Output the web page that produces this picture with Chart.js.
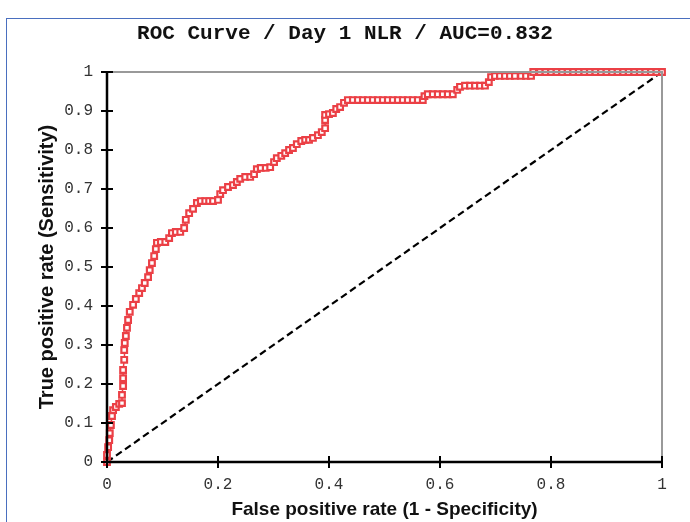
<!DOCTYPE html>
<html>
<head>
<meta charset="utf-8">
<script src="https://cdn.jsdelivr.net/npm/chart.js@4.4.0/dist/chart.umd.min.js"></script>
<style>
  html, body { margin: 0; padding: 0; background: #fff; }
  #wrap { position: relative; width: 690px; height: 522px; }
  #frame { position: absolute; left: 6px; top: 18px; right: -5px; bottom: -5px;
           border-left: 1px solid #4a6fbf; border-top: 1px solid #4a6fbf; }
  canvas { position: absolute; left: 0; top: 0; }
</style>
</head>
<body>
<div id="wrap">
  <div id="frame"></div>
  <canvas id="myChart" width="690" height="522"></canvas>
</div>
<script>
// ROC points
let fpr = [0, 0, 0.002, 0.004, 0.005, 0.007, 0.009, 0.011, 0.016, 0.022, 0.027, 0.027, 0.029, 0.029, 0.029,
  0.031, 0.031, 0.032, 0.034, 0.036, 0.038, 0.041, 0.047, 0.052, 0.058, 0.063, 0.068, 0.074, 0.077, 0.081,
  0.085, 0.088, 0.090, 0.097, 0.105, 0.112, 0.117, 0.124, 0.132, 0.139, 0.142, 0.148, 0.155, 0.162, 0.169,
  0.177, 0.184, 0.191, 0.200, 0.204, 0.209, 0.218, 0.227, 0.234, 0.240, 0.249, 0.258, 0.265, 0.270, 0.277,
  0.286, 0.294, 0.301, 0.306, 0.314, 0.321, 0.328, 0.335, 0.342, 0.350, 0.357, 0.364, 0.371, 0.380, 0.387,
  0.393, 0.393, 0.393, 0.400, 0.407, 0.413, 0.420, 0.427, 0.434, 0.443, 0.452, 0.461, 0.470, 0.479, 0.488,
  0.497, 0.506, 0.515, 0.524, 0.533, 0.542, 0.551, 0.560, 0.569, 0.572, 0.578, 0.587, 0.596, 0.605, 0.614,
  0.623, 0.631, 0.636, 0.645, 0.654, 0.663, 0.672, 0.681, 0.688, 0.692, 0.699, 0.708, 0.717, 0.726, 0.735,
  0.746, 0.755, 0.764, 0.768, 0.78, 0.79, 0.80, 0.81, 0.82, 0.83, 0.84, 0.85, 0.86, 0.87, 0.88, 0.89,
  0.90, 0.91, 0.92, 0.93, 0.94, 0.95, 0.96, 0.97, 0.98, 0.99, 1.0]
let tpr = [0, 0.018, 0.038, 0.056, 0.074, 0.095, 0.118, 0.133, 0.141, 0.149, 0.151, 0.172, 0.195, 0.215, 0.236,
  0.262, 0.287, 0.305, 0.323, 0.344, 0.364, 0.385, 0.403, 0.418, 0.433, 0.446, 0.459, 0.474, 0.492, 0.510,
  0.528, 0.546, 0.562, 0.564, 0.564, 0.574, 0.587, 0.590, 0.590, 0.600, 0.621, 0.638, 0.649, 0.664, 0.669,
  0.669, 0.669, 0.669, 0.672, 0.687, 0.697, 0.705, 0.710, 0.718, 0.726, 0.731, 0.731, 0.738, 0.751, 0.754,
  0.754, 0.756, 0.769, 0.779, 0.785, 0.792, 0.800, 0.805, 0.815, 0.823, 0.826, 0.826, 0.831, 0.838, 0.846,
  0.856, 0.877, 0.890, 0.892, 0.895, 0.905, 0.910, 0.921, 0.928, 0.928, 0.928, 0.928, 0.928, 0.928, 0.928,
  0.928, 0.928, 0.928, 0.928, 0.928, 0.928, 0.928, 0.928, 0.928, 0.938, 0.943, 0.943, 0.943, 0.943, 0.943,
  0.943, 0.954, 0.962, 0.965, 0.965, 0.965, 0.965, 0.965, 0.974, 0.987, 0.990, 0.990, 0.990, 0.990, 0.990,
  0.990, 0.990, 0.990, 1.0, 1.0, 1.0, 1.0, 1.0, 1.0, 1.0, 1.0, 1.0, 1.0, 1.0, 1.0, 1.0,
  1.0, 1.0, 1.0, 1.0, 1.0, 1.0, 1.0, 1.0, 1.0, 1.0, 1.0]
let refLine = [0, 1]

let xTicks = [0, 0.2, 0.4, 0.6, 0.8, 1]
let yTicks = [0, 0.1, 0.2, 0.3, 0.4, 0.5, 0.6, 0.7, 0.8, 0.9, 1]

const ctx = document.getElementById('myChart');

// axes drawn by hand: black left/bottom with crossing ticks, grey top/right
const axisFrame = {
  id: 'axisFrame',
  afterDatasetsDraw(chart) {
    const c = chart.ctx, a = chart.chartArea
    const xs = chart.scales.x, ys = chart.scales.y
    c.save()
    c.strokeStyle = '#999'
    c.lineWidth = 2
    c.beginPath()
    c.moveTo(a.left, a.top); c.lineTo(a.right, a.top); c.lineTo(a.right, a.bottom)
    c.stroke()
    c.strokeStyle = '#000'
    c.lineWidth = 2.5
    c.beginPath()
    c.moveTo(a.left, a.top); c.lineTo(a.left, a.bottom); c.lineTo(a.right + 1, a.bottom)
    c.stroke()
    c.lineWidth = 2
    c.beginPath()
    yTicks.forEach(v => {
      let y = ys.getPixelForValue(v)
      c.moveTo(a.left - 6, y); c.lineTo(a.left + 6, y)
    })
    xTicks.forEach(v => {
      let x = xs.getPixelForValue(v)
      c.moveTo(x, a.bottom - 6); c.lineTo(x, a.bottom + 6)
    })
    c.stroke()
    c.restore()
  }
}

function createChart() {
  new Chart(ctx, {
    type: 'scatter',
    data: {
      datasets: [{
        label: 'Day 1 NLR',
        data: fpr.map((v, i) => ({ x: v, y: tpr[i] })),
        showLine: true,
        borderColor: '#eb4046',
        backgroundColor: '#fff',
        borderWidth: 1.5,
        pointStyle: 'rect',
        pointRadius: 4,
        pointBorderWidth: 2.2,
        clip: false
      }, {
        label: 'reference',
        data: refLine.map(v => ({ x: v, y: v })),
        showLine: true,
        borderColor: '#000',
        borderWidth: 2.2,
        borderDash: [7, 4],
        pointRadius: 0
      }]
    },
    options: {
      responsive: false,
      animation: false,
      layout: { padding: 0 },
      plugins: {
        legend: { display: false },
        tooltip: { enabled: false },
        title: {
          display: true,
          text: 'ROC Curve / Day 1 NLR / AUC=0.832',
          color: '#111',
          font: { family: '"Liberation Mono", monospace', size: 21, weight: 'bold', lineHeight: 1.2 },
          padding: { top: 21, bottom: 25.8 }
        }
      },
      scales: {
        x: {
          type: 'linear',
          min: 0,
          max: 1,
          afterFit: s => { s.height = 60 },
          afterBuildTicks: s => { s.ticks = xTicks.map(v => ({ value: v })) },
          grid: { display: false, drawTicks: false },
          border: { display: false },
          ticks: {
            padding: 13,
            color: '#333',
            font: { family: '"Liberation Mono", monospace', size: 16 },
            callback: v => String(v)
          },
          title: {
            display: true,
            text: 'False positive rate (1 - Specificity)',
            color: '#111',
            font: { family: '"Liberation Sans", Arial, sans-serif', size: 19, weight: 'bold', lineHeight: 1.2 },
            padding: { top: 0, bottom: 1 }
          }
        },
        y: {
          type: 'linear',
          min: 0,
          max: 1,
          afterFit: s => { s.width = 107 },
          afterBuildTicks: s => { s.ticks = yTicks.map(v => ({ value: v })) },
          grid: { display: false, drawTicks: false },
          border: { display: false },
          ticks: {
            padding: 14,
            color: '#333',
            font: { family: '"Liberation Mono", monospace', size: 16 },
            callback: v => String(v)
          },
          title: {
            display: true,
            text: 'True positive rate (Sensitivity)',
            color: '#111',
            font: { family: '"Liberation Sans", Arial, sans-serif', size: 20, weight: 'bold', lineHeight: 1.2 },
            padding: { top: 35, bottom: 0 }
          }
        },
        // empty right axis, only keeps the plot clear of the right edge
        y2: {
          position: 'right',
          min: 0,
          max: 1,
          afterFit: s => { s.width = 28 },
          grid: { display: false, drawTicks: false },
          border: { display: false },
          ticks: { display: false }
        }
      }
    },
    plugins: [axisFrame]
  });
}

createChart()
</script>
</body>
</html>
